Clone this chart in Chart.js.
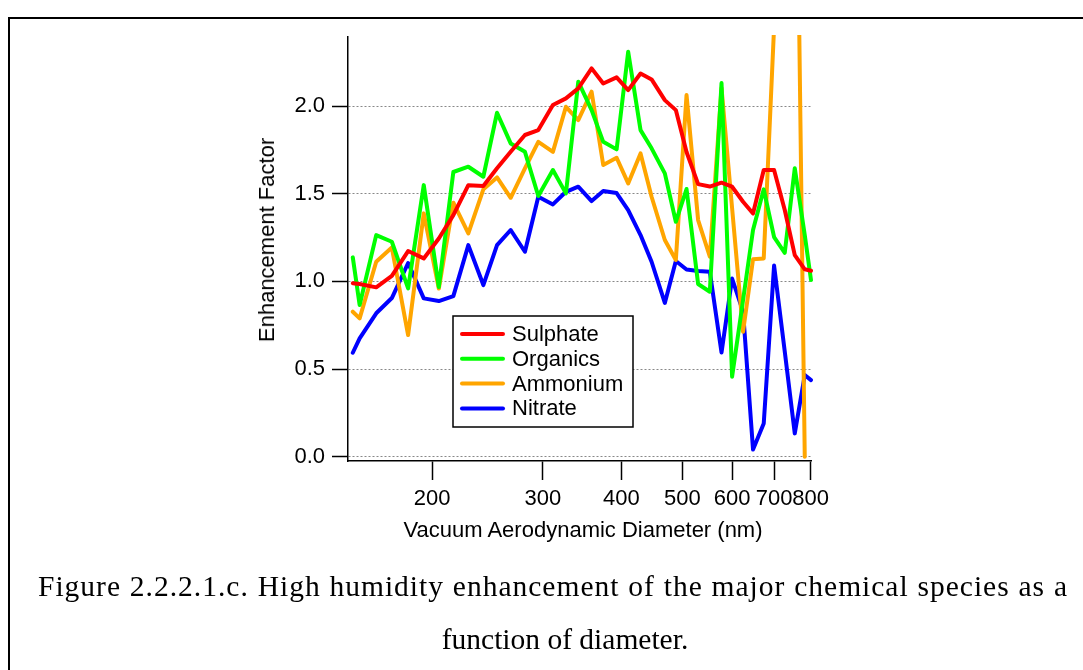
<!DOCTYPE html>
<html>
<head>
<meta charset="utf-8">
<script src="https://cdn.jsdelivr.net/npm/chart.js@4/dist/chart.umd.min.js"></script>
<style>
  html, body { margin: 0; padding: 0; background: #fff; }
  body { width: 1083px; height: 670px; position: relative; overflow: hidden; }
  #frame { position: absolute; left: 8px; top: 17px; width: 1100px; height: 700px;
           border-left: 2px solid #000; border-top: 2px solid #000; }
  canvas { position: absolute; left: 0; top: 0; }
  .lab { position: absolute; font-family: "Liberation Sans", Arial, sans-serif; color: #000; white-space: nowrap; }
  #ytitle { left: 267px; top: 240px; font-size: 22px; transform: translate(-50%, -50%) rotate(-90deg); }
  #xtitle { left: 583px; top: 530px; font-size: 22px; transform: translate(-50%, -50%); }
  .cap { position: absolute; font-family: "Liberation Serif", "Times New Roman", serif; font-size: 29.5px; white-space: nowrap; color: #000; line-height: 1; }
  #cap1 { left: 38px; width: 1030px; top: 572px; letter-spacing: 1px; text-align: justify; text-align-last: justify; white-space: normal; }
  #cap2 { left: 565px; top: 640px; transform: translate(-50%, -50%); }
</style>
</head>
<body>
<div id="frame"></div>
<canvas id="c" width="1083" height="670"></canvas>
<div class="lab" id="ytitle">Enhancement Factor</div>
<div class="lab" id="xtitle">Vacuum Aerodynamic Diameter (nm)</div>
<div class="cap" id="cap1">Figure 2.2.2.1.c. High humidity enhancement of the major chemical species as a</div>
<div class="cap" id="cap2">function of diameter.</div>
<script>
const diameters = [149.6,153.4,163.0,172.6,183.2,194.0,205.0,216.2,228.4,241.3,253.7,266.7,281.0,295.1,311.3,326.5,341.6,358.7,374.3,393.1,410.1,429.1,446.8,469.0,488.3,507.8,529.8,553.0,577.2,600.0,624.6,647.8,673.7,699.7,727.6,754.8,782.9,801];
const sulphate = [0.99,0.985,0.966,1.031,1.173,1.131,1.245,1.378,1.549,1.544,1.645,1.739,1.835,1.863,2.006,2.044,2.101,2.215,2.129,2.164,2.091,2.186,2.152,2.034,1.977,1.738,1.555,1.541,1.563,1.540,1.454,1.387,1.635,1.635,1.407,1.150,1.069,1.061];
const organics = [1.137,0.865,1.264,1.226,0.960,1.549,0.968,1.624,1.654,1.597,1.962,1.787,1.739,1.487,1.635,1.502,2.139,1.977,1.796,1.753,2.310,1.863,1.759,1.616,1.340,1.527,0.985,0.941,2.131,0.456,0.894,1.293,1.525,1.253,1.163,1.645,1.264,1.008];
const ammonium = [0.827,0.789,1.112,1.193,0.694,1.388,0.959,1.449,1.274,1.525,1.593,1.477,1.645,1.796,1.739,1.996,1.920,2.082,1.664,1.705,1.559,1.730,1.483,1.236,1.122,2.063,1.350,1.141,2.103,1.418,0.713,1.126,1.131,2.45,3.5,4.4,0.0,null];
const nitrate = [0.593,0.675,0.818,0.905,1.105,0.903,0.888,0.916,1.207,0.979,1.207,1.293,1.169,1.483,1.439,1.511,1.540,1.458,1.515,1.504,1.407,1.264,1.112,0.877,1.116,1.068,1.059,1.055,0.594,1.016,0.828,0.041,0.190,1.090,0.60,0.133,0.466,0.437];
const seriesNames = ["Sulphate","Organics","Ammonium","Nitrate"];
const seriesColors = ["#ff0000","#00ff00","#ffa500","#0000ff"];
const xTicks = [200,300,400,500,600,700,800];
const yTicks = [0,0.5,1.0,1.5,2.0];

const FONT = "Liberation Sans, Arial, sans-serif";
const allSeries = [sulphate, organics, ammonium, nitrate];
const datasets = allSeries.map((vals, k) => ({
  label: seriesNames[k],
  data: diameters.map((d, i) => ({x: d, y: vals[i]})),
  borderColor: seriesColors[k],
  backgroundColor: seriesColors[k],
  borderWidth: 4,
  pointRadius: 0,
  tension: 0,
  fill: false,
  spanGaps: false,
  borderCapStyle: 'round',
  borderJoinStyle: 'round',
  clip: 2
}));

const legendBox = {
  id: 'legendBox',
  afterDatasetsDraw(chart) {
    const ctx = chart.ctx;
    ctx.save();
    const x0 = 453, y0 = 316, w = 180, h = 111;
    ctx.fillStyle = '#fff';
    ctx.fillRect(x0, y0, w, h);
    ctx.strokeStyle = '#000';
    ctx.lineWidth = 1.5;
    ctx.strokeRect(x0, y0, w, h);
    ctx.font = '22px ' + FONT;
    ctx.textBaseline = 'middle';
    ctx.textAlign = 'left';
    chart.data.datasets.forEach((ds, i) => {
      const yy = 334 + i * 24.8;
      ctx.strokeStyle = ds.borderColor;
      ctx.lineWidth = 4;
      ctx.lineCap = 'round';
      ctx.beginPath();
      ctx.moveTo(462, yy);
      ctx.lineTo(503, yy);
      ctx.stroke();
      ctx.fillStyle = '#000';
      ctx.fillText(ds.label, 512, yy + 1);
    });
    ctx.restore();
  }
};

new Chart(document.getElementById('c'), {
  type: 'line',
  data: { datasets },
  options: {
    responsive: false,
    devicePixelRatio: 1,
    animation: false,
    layout: { padding: { left: 0, top: 37, right: 272, bottom: 0 } },
    plugins: { legend: { display: false }, tooltip: { enabled: false } },
    scales: {
      x: {
        type: 'logarithmic',
        position: 'bottom',
        min: 147,
        max: 801,
        afterBuildTicks: (s) => { s.ticks = xTicks.map(v => ({value: v})); },
        afterFit: (s) => { s.height = 209; },
        ticks: {
          autoSkip: false, maxRotation: 0, minRotation: 0,
          color: '#000', font: { family: FONT, size: 22 }, padding: 6,
          callback: (v) => String(v)
        },
        grid: { drawOnChartArea: false, drawTicks: true, tickLength: 19, tickColor: '#000', tickWidth: 1.5 },
        border: { display: true, color: '#000', width: 1.5 }
      },
      y: {
        type: 'linear',
        position: 'left',
        min: -0.0245,
        max: 2.394,
        afterBuildTicks: (s) => { s.ticks = yTicks.map(v => ({value: v})); },
        afterFit: (s) => { s.width = 348; },
        ticks: {
          color: '#000', font: { family: FONT, size: 22 }, padding: 7,
          callback: (v) => Number(v).toFixed(1)
        },
        grid: { drawOnChartArea: true, color: '#888', lineWidth: 1, drawTicks: true, tickLength: 16, tickColor: '#000', tickWidth: 1.5, tickBorderDash: [] },
        border: { display: true, color: '#000', width: 1.5, dash: [2, 2] }
      }
    }
  },
  plugins: [legendBox]
});
</script>
</body>
</html>
